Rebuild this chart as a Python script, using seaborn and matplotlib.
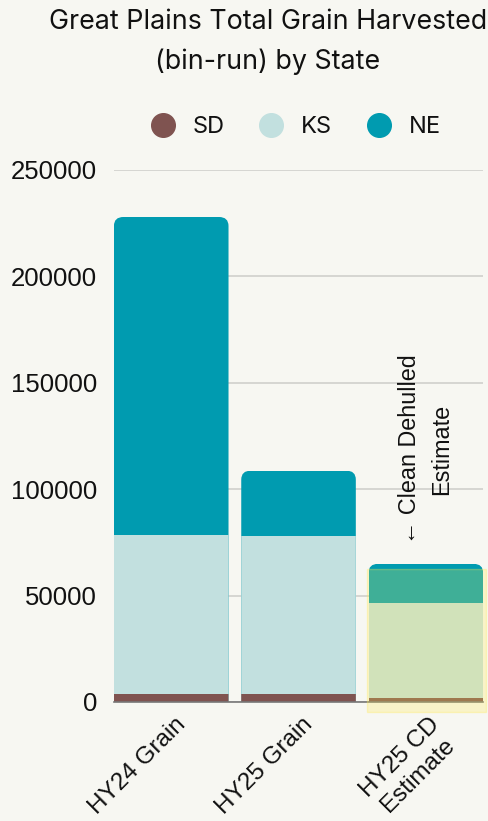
import matplotlib
matplotlib.use("Agg")
import matplotlib.pyplot as plt
import matplotlib.transforms as mtransforms
import numpy as np
import pandas as pd
import seaborn as sns
from matplotlib.lines import Line2D
from matplotlib.patches import FancyBboxPatch, Rectangle

# data (bin-run units)
categories = ["HY24 Grain", "HY25 Grain", "HY25 CD\nEstimate"]
sd = [3900, 3900, 1900]
ks = [74700, 73900, 44800]
ne = [149300, 30900, 18200]
states = ["SD", "KS", "NE"]
colors = {"SD": "#7f5350", "KS": "#c2e0df", "NE": "#009bb0"}
y_ticks = [0, 50000, 100000, 150000, 200000, 250000]

BG = "#f7f7f2"
sns.set_theme(style="whitegrid")
plt.rcParams.update({
    "figure.facecolor": BG,
    "axes.facecolor": BG,
    "savefig.facecolor": BG,
})
plt.rcParams["font.family"] = ["Liberation Sans", "DejaVu Sans"]

df = pd.DataFrame({"category": categories, "SD": sd, "KS": ks, "NE": ne})
df["sd_top"] = df["SD"]
df["ks_top"] = df["SD"] + df["KS"]
df["ne_top"] = df["ks_top"] + df["NE"]

fig = plt.figure(figsize=(4.89, 8.21), dpi=100)
ax = fig.add_axes([0.233, 0.145, 0.755, 0.648])

# stacked bars: draw cumulative totals from the back to the front
n0 = len(ax.patches)
sns.barplot(data=df, x="category", y="ne_top", color=colors["NE"], width=0.9,
            saturation=1, linewidth=0, ax=ax, zorder=2)
top_bars = ax.patches[n0:]
sns.barplot(data=df, x="category", y="ks_top", color=colors["KS"], width=0.9,
            saturation=1, linewidth=0, ax=ax, zorder=3)
sns.barplot(data=df, x="category", y="sd_top", color=colors["SD"], width=0.9,
            saturation=1, linewidth=0, ax=ax, zorder=4)

ax.set_xlim(-0.45, 2.45)
ax.set_ylim(0, 250000)

# rounded tops: clip each stack to a rounded box
for bar in top_bars:
    x, w, h = bar.get_x(), bar.get_width(), bar.get_height()
    clip = FancyBboxPatch((x, -60000), w, h + 60000,
                          boxstyle="round,pad=0,rounding_size=0.075",
                          mutation_aspect=56000, transform=ax.transData)
    for p in ax.patches:
        if abs(p.get_x() - x) < 1e-6:
            p.set_clip_path(clip)

# highlight over the estimate bar
est = 2
ax.add_patch(Rectangle((est - 0.46, -4600), 0.93, 67000,
                       facecolor=(1.0, 0.92, 0.3, 0.25),
                       edgecolor=(1.0, 0.92, 0.3, 0.3), linewidth=1.0,
                       zorder=6, clip_on=False))

ax.text(est, 118600, "\u2190 Clean Dehulled\nEstimate", rotation=90,
        ha="center", va="center", multialignment="center", fontsize=16.8,
        color="#111111", zorder=7, linespacing=1.5)

ax.set_yticks(y_ticks)
ax.set_yticklabels([str(v) for v in y_ticks])
ax.grid(axis="y", color="#d0d0cc", linewidth=1.2)
ax.grid(axis="x", visible=False)
for s in ["left", "right", "top"]:
    ax.spines[s].set_visible(False)
ax.spines["bottom"].set_color("#777777")
ax.spines["bottom"].set_linewidth(1.2)
ax.spines["bottom"].set_zorder(5)
ax.tick_params(axis="y", length=0, pad=12, labelsize=18.5, labelcolor="#111111")
ax.tick_params(axis="x", length=0, pad=6, labelsize=17.5, labelcolor="#111111")
ax.set_xlabel("")
ax.set_ylabel("")
shift = mtransforms.ScaledTranslation(3 / 100, -3 / 100, fig.dpi_scale_trans)
for lbl in ax.get_xticklabels():
    lbl.set_rotation(45)
    lbl.set_ha("right")
    lbl.set_va("top")
    lbl.set_rotation_mode("anchor")
    lbl.set_multialignment("center")
    lbl.set_transform(lbl.get_transform() + shift)

fig.text(268 / 489, 1 - 42 / 821, "Great Plains Total Grain Harvested\n(bin-run) by State",
         ha="center", va="center", fontsize=19.3, family=["Inter", "DejaVu Sans"],
         color="#111111", linespacing=1.7)

handles = [Line2D([], [], marker="o", linestyle="", markersize=17,
                  markerfacecolor=colors[s], markeredgecolor=colors[s]) for s in states]
leg = fig.legend(handles, states, loc="center", bbox_to_anchor=(290 / 489, 1 - 127 / 821),
                 ncol=3, frameon=False, handletextpad=0.25, columnspacing=1.0,
                 prop={"family": ["Inter", "DejaVu Sans"], "size": 17})
for t in leg.get_texts():
    t.set_color("#111111")

fig.savefig("out.png", dpi=100)
